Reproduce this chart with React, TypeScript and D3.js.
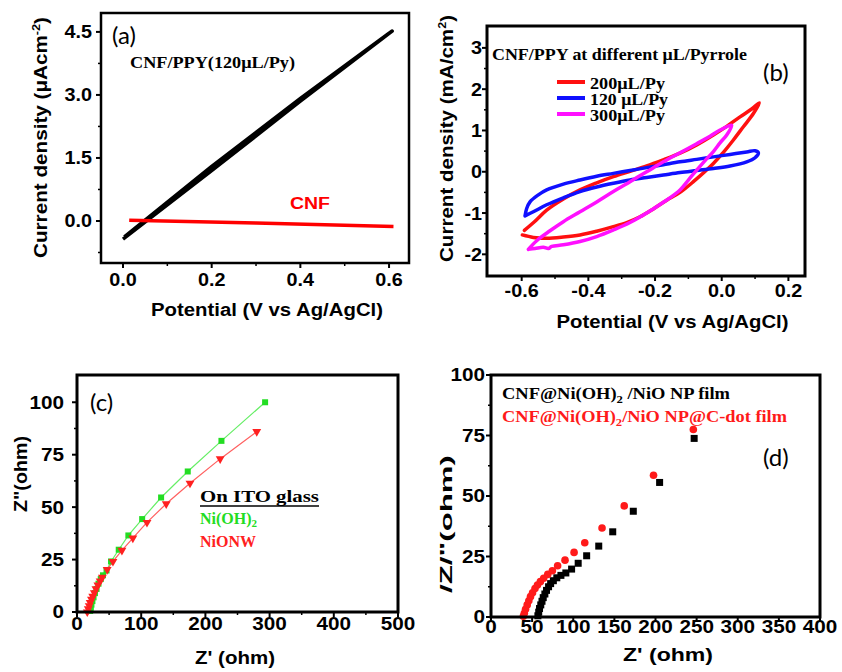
import React from 'react';
import * as d3 from 'd3';

const SANS = '"Liberation Sans", Arial, sans-serif';
const SERIF = '"Liberation Serif", "Times New Roman", serif';
const LETTER = 'Lato, "Open Sans", sans-serif';

// ---------- Panel (a) ----------
const aXTicks = [0, 0.2, 0.4, 0.6];
const aXLabels = ['0.0', '0.2', '0.4', '0.6'];
const aXMinor = [0.1, 0.3, 0.5];
const aYTicks = [0, 1.5, 3, 4.5];
const aYLabels = ['0.0', '1.5', '3.0', '4.5'];
const aYMinor = [-0.75, 0.75, 2.25, 3.75];
const aPpyX = [0.0, 0.2, 0.4, 0.607, 0.6, 0.4, 0.2, 0.003];
const aPpyY = [-0.43, 1.2, 2.85, 4.52, 4.47, 2.92, 1.3, -0.38];
const aCnfX = [0.014, 0.3, 0.61];
const aCnfY = [0.02, -0.05, -0.13];

// ---------- Panel (b) ----------
const bXTicks = [-0.6, -0.4, -0.2, 0, 0.2];
const bXLabels = ['-0.6', '-0.4', '-0.2', '0.0', '0.2'];
const bXMinor = [-0.5, -0.3, -0.1, 0.1];
const bYTicks = [-2, -1, 0, 1, 2, 3];
const bYLabels = ['-2', '-1', '0', '1', '2', '3'];
const bYMinor = [-1.5, -0.5, 0.5, 1.5, 2.5];
const bSeriesNames = ['200μL/Py', '120 μL/Py', '300μL/Py'];
const bSeriesColors = ['#ff1010', '#1010ff', '#ff10ff'];
const bRed: [number, number][] = [
  [-0.592, -1.42], [-0.56, -1.2], [-0.525, -0.93], [-0.475, -0.66], [-0.425, -0.44], [-0.375, -0.27],
  [-0.325, -0.12], [-0.275, 0.01], [-0.225, 0.14], [-0.175, 0.29], [-0.125, 0.45], [-0.075, 0.65],
  [-0.025, 0.89], [0.015, 1.1], [0.055, 1.33], [0.09, 1.52], [0.113, 1.67], [0.095, 1.41], [0.065, 1.09],
  [0.035, 0.77], [0.005, 0.47], [-0.025, 0.2], [-0.085, -0.24], [-0.125, -0.5], [-0.165, -0.69],
  [-0.205, -0.9], [-0.245, -1.09], [-0.285, -1.23], [-0.325, -1.33], [-0.375, -1.44], [-0.425, -1.53],
  [-0.475, -1.58], [-0.525, -1.61], [-0.565, -1.59], [-0.598, -1.53],
];
const bBlue: [number, number][] = [
  [-0.59, -1.07], [-0.585, -0.89], [-0.575, -0.73], [-0.55, -0.56], [-0.525, -0.44], [-0.475, -0.3],
  [-0.425, -0.2], [-0.375, -0.11], [-0.325, -0.04], [-0.275, 0.03], [-0.225, 0.1], [-0.175, 0.17],
  [-0.125, 0.24], [-0.075, 0.3], [-0.025, 0.36], [0.025, 0.42], [0.075, 0.48], [0.1, 0.51], [0.11, 0.46],
  [0.1, 0.34], [0.075, 0.24], [0.025, 0.14], [-0.025, 0.08], [-0.075, 0.03], [-0.125, -0.02],
  [-0.175, -0.08], [-0.225, -0.14], [-0.275, -0.2], [-0.325, -0.28], [-0.375, -0.37], [-0.425, -0.48],
  [-0.475, -0.63], [-0.525, -0.8], [-0.565, -0.97], [-0.59, -1.07],
];
const bMagenta: [number, number][] = [
  [-0.58, -1.88], [-0.555, -1.67], [-0.515, -1.43], [-0.475, -1.21], [-0.425, -0.97], [-0.375, -0.73],
  [-0.325, -0.48], [-0.275, -0.24], [-0.225, 0.0], [-0.175, 0.24], [-0.125, 0.46], [-0.075, 0.68],
  [-0.035, 0.86], [-0.005, 1.01], [0.03, 1.13], [0.015, 0.89], [-0.005, 0.7], [-0.025, 0.49],
  [-0.05, 0.27], [-0.075, 0.04], [-0.1, -0.2], [-0.125, -0.44], [-0.175, -0.74], [-0.225, -1.0],
  [-0.275, -1.23], [-0.325, -1.41], [-0.375, -1.57], [-0.425, -1.69], [-0.475, -1.77], [-0.51, -1.81],
  [-0.52, -1.86], [-0.535, -1.83], [-0.56, -1.86], [-0.58, -1.88],
];

// ---------- Panel (c) ----------
const cXTicks = [0, 100, 200, 300, 400, 500];
const cXLabels = ['0', '100', '200', '300', '400', '500'];
const cXMinor = [50, 150, 250, 350, 450];
const cYTicks = [0, 25, 50, 75, 100];
const cYLabels = ['0', '25', '50', '75', '100'];
const cYMinor = [12.5, 37.5, 62.5, 87.5];
const cNiOH: [number, number][] = [
  [20.5, 0.5], [21.5, 2], [22.5, 3.5], [24, 5.2], [25.8, 7], [28, 9], [30.5, 11], [33.5, 13.5],
  [37, 15.7], [40.5, 17.5], [46, 19.8], [53, 24.1], [65, 29.7], [80, 36.5], [101.5, 44.3],
  [131, 54.6], [172.5, 67], [225, 81.6], [293, 100],
];
const cNiONW: [number, number][] = [
  [16, 0], [17.5, 1.5], [19, 3], [20.5, 4.5], [22.5, 6], [24.5, 7.5], [27, 9.2], [29.5, 11],
  [32.5, 12.8], [36, 14.8], [39.5, 16.5], [47, 20.2], [56, 24.1], [70, 29.4], [87, 35.2],
  [109, 42.7], [139, 51.6], [176, 61.4], [223, 73], [280, 86],
];

// ---------- Panel (d) ----------
const dXTicks = [0, 50, 100, 150, 200, 250, 300, 350, 400];
const dXLabels = ['0', '50', '100', '150', '200', '250', '300', '350', '400'];
const dYTicks = [0, 25, 50, 75, 100];
const dYLabels = ['0', '25', '50', '75', '100'];
const dYMinor = [12.5, 37.5, 62.5, 87.5];
const dNP: [number, number][] = [
  [57, 0.5], [58, 2], [59, 3.5], [60.5, 5], [62, 6.5], [63.5, 8], [65.5, 9.5], [67.5, 11], [70, 12.5],
  [72.5, 13.8], [75.8, 15], [80, 16.2], [85, 17.2], [91, 18.2], [98, 19.8], [106, 22.2], [116.3, 25.3],
  [131, 29.3], [148, 35.2], [173, 43.7], [205, 55.6], [247, 73.8],
];
const dCdot: [number, number][] = [
  [39.3, 0.3], [40.5, 1.5], [42, 3.2], [44, 5], [46, 6.7], [48, 8.4], [50.5, 10], [53.5, 11.8],
  [56.5, 13.2], [60, 14.6], [64, 16], [69, 17.6], [74.6, 19.1], [81, 21.2], [90, 23.5], [101, 26.7],
  [114, 30.7], [135, 36.8], [162, 45.9], [197.6, 58.6], [246, 77.5],
];

type Scale = d3.ScaleLinear<number, number>;

function Frame({ x, y, sw }: { x: Scale; y: Scale; sw: number }) {
  const [x0, x1] = x.range();
  const [y1, y0] = y.range();
  return <rect x={x0} y={y0} width={x1 - x0} height={y1 - y0} fill="none" stroke="#000" strokeWidth={sw} />;
}

function XAxis({ x, y, ticks, labels, minor, labelY, fs = 18, sx = 1.1 }: any) {
  const yb = y.range()[0];
  return (
    <g>
      {ticks.map((t: number, i: number) => (
        <line key={'M' + i} x1={x(t)} x2={x(t)} y1={yb} y2={yb + 5} stroke="#000" strokeWidth={2} />
      ))}
      {(minor || []).map((t: number, i: number) => (
        <line key={'m' + i} x1={x(t)} x2={x(t)} y1={yb} y2={yb + 3} stroke="#000" strokeWidth={1.5} />
      ))}
      {ticks.map((t: number, i: number) => (
        <text key={'L' + i} transform={`translate(${x(t)},${labelY}) scale(${sx},1)`} textAnchor="middle"
          fontFamily={SANS} fontWeight="bold" fontSize={fs}>{labels[i]}</text>
      ))}
    </g>
  );
}

function YAxis({ x, y, ticks, labels, minor, labelX, fs = 18, sx = 1.1 }: any) {
  const xl = x.range()[0];
  return (
    <g>
      {ticks.map((t: number, i: number) => (
        <line key={'M' + i} x1={xl - 5} x2={xl} y1={y(t)} y2={y(t)} stroke="#000" strokeWidth={2} />
      ))}
      {(minor || []).map((t: number, i: number) => (
        <line key={'m' + i} x1={xl - 3} x2={xl} y1={y(t)} y2={y(t)} stroke="#000" strokeWidth={1.5} />
      ))}
      {ticks.map((t: number, i: number) => (
        <text key={'L' + i} transform={`translate(${labelX},${y(t) + fs * 0.36}) scale(${sx},1)`} textAnchor="end"
          fontFamily={SANS} fontWeight="bold" fontSize={fs}>{labels[i]}</text>
      ))}
    </g>
  );
}

export default function App() {
  // scales
  const ax = d3.scaleLinear().domain([-0.0496, 0.645]).range([101, 409]);
  const ay = d3.scaleLinear().domain([-1.0, 4.95]).range([263, 13]);
  const bx = d3.scaleLinear().domain([-0.704, 0.2498]).range([487, 805]);
  const by = d3.scaleLinear().domain([-2.525, 3.53]).range([276, 26]);
  const cx = d3.scaleLinear().domain([0, 500]).range([77, 398]);
  const cy = d3.scaleLinear().domain([0, 113]).range([612, 375]);
  const dx = d3.scaleLinear().domain([0, 400]).range([491, 820]);
  const dy = d3.scaleLinear().domain([0, 100]).range([617, 375]);

  const aLine = (xs: number[], ys: number[]) =>
    d3.line<number>().x((_, i) => ax(xs[i])).y((_, i) => ay(ys[i]))(xs) || '';
  const bLine = d3.line<[number, number]>().x(d => bx(d[0])).y(d => by(d[1])).curve(d3.curveCatmullRom.alpha(0.5));
  const cLine = d3.line<[number, number]>().x(d => cx(d[0])).y(d => cy(d[1]));

  const bSeries = [bRed, bBlue, bMagenta];
  const tri = d3.symbol().type(d3.symbolTriangle).size(34)() || '';

  return (
    <svg width={842} height={672} style={{ position: 'absolute', left: 0, top: 0, background: '#fff' }}>
      <rect x={0} y={0} width={842} height={672} fill="#fff" />

      {/* ===== Panel (a) ===== */}
      <g>
        <path d={aLine(aPpyX, aPpyY)} fill="none" stroke="#000" strokeWidth={3.5} strokeLinejoin="round" />
        <path d={aLine(aCnfX, aCnfY)} fill="none" stroke="#ff0000" strokeWidth={3.5} />
        <Frame x={ax} y={ay} sw={2.5} />
        <XAxis x={ax} y={ay} ticks={aXTicks} labels={aXLabels} minor={aXMinor} labelY={286} />
        <YAxis x={ax} y={ay} ticks={aYTicks} labels={aYLabels} minor={aYMinor} labelX={92} />
        <text x={267} y={316} textAnchor="middle" fontFamily={SANS} fontWeight="bold" fontSize={18}
          textLength={232} lengthAdjust="spacingAndGlyphs">Potential (V vs Ag/AgCl)</text>
        <text transform="translate(47,137.5) rotate(-90)" textAnchor="middle" fontFamily={SANS} fontWeight="bold"
          fontSize={18} textLength={241} lengthAdjust="spacingAndGlyphs">
          Current density (μAcm<tspan fontSize={11} dy={-7}>-2</tspan><tspan dy={7}>)</tspan>
        </text>
        <text x={112} y={44} fontFamily={LETTER} fontSize={24}>(a)</text>
        <text x={130} y={68} fontFamily={SERIF} fontWeight="bold" fontSize={17} textLength={165}
          lengthAdjust="spacingAndGlyphs">CNF/PPY(120μL/Py)</text>
        <text x={290} y={209} fontFamily={SANS} fontWeight="bold" fontSize={16} fill="#ff0000" textLength={40}
          lengthAdjust="spacingAndGlyphs">CNF</text>
      </g>

      {/* ===== Panel (b) ===== */}
      <g>
        {bSeries.map((s, i) => (
          <path key={i} d={bLine(s) || ''} fill="none" stroke={bSeriesColors[i]} strokeWidth={3.5}
            strokeLinejoin="round" strokeLinecap="round" />
        ))}
        <Frame x={bx} y={by} sw={3} />
        <XAxis x={bx} y={by} ticks={bXTicks} labels={bXLabels} minor={bXMinor} labelY={297} />
        <YAxis x={bx} y={by} ticks={bYTicks} labels={bYLabels} minor={bYMinor} labelX={482} />
        <text x={672.5} y={328} textAnchor="middle" fontFamily={SANS} fontWeight="bold" fontSize={18}
          textLength={232} lengthAdjust="spacingAndGlyphs">Potential (V vs Ag/AgCl)</text>
        <text transform="translate(453,138.5) rotate(-90)" textAnchor="middle" fontFamily={SANS} fontWeight="bold"
          fontSize={18} textLength={247} lengthAdjust="spacingAndGlyphs">
          Current density (mA/cm<tspan fontSize={11} dy={-7}>2</tspan><tspan dy={7}>)</tspan>
        </text>
        <text x={492} y={60} fontFamily={SERIF} fontWeight="bold" fontSize={17} textLength={255}
          lengthAdjust="spacingAndGlyphs">CNF/PPY at different μL/Pyrrole</text>
        <text x={763} y={81} fontFamily={LETTER} fontSize={24}>(b)</text>
        {bSeriesNames.map((n, i) => (
          <g key={i}>
            <line x1={557} x2={585} y1={82 + i * 16} y2={82 + i * 16} stroke={bSeriesColors[i]} strokeWidth={4} />
            <text x={590} y={89 + i * 16} fontFamily={SERIF} fontWeight="bold" fontSize={16}
              textLength={i === 1 ? 78 : 75} lengthAdjust="spacingAndGlyphs">{n}</text>
          </g>
        ))}
      </g>

      {/* ===== Panel (c) ===== */}
      <g>
        <path d={cLine(cNiOH) || ''} fill="none" stroke="#66ee66" strokeWidth={1.2} />
        <path d={cLine(cNiONW) || ''} fill="none" stroke="#ff6060" strokeWidth={1.2} />
        {cNiOH.map((p, i) => (
          <rect key={'g' + i} x={cx(p[0]) - 3} y={cy(p[1]) - 3} width={6} height={6} fill="#22dd22" />
        ))}
        {cNiONW.map((p, i) => (
          <path key={'r' + i} d={tri} transform={`translate(${cx(p[0])},${cy(p[1])}) rotate(180)`} fill="#ff2020" />
        ))}
        <Frame x={cx} y={cy} sw={3} />
        <XAxis x={cx} y={cy} ticks={cXTicks} labels={cXLabels} minor={cXMinor} labelY={630} sx={1.15} />
        <YAxis x={cx} y={cy} ticks={cYTicks} labels={cYLabels} minor={cYMinor} labelX={64} sx={1.15} />
        <text x={235} y={664} textAnchor="middle" fontFamily={SANS} fontWeight="bold" fontSize={18}
          textLength={80} lengthAdjust="spacingAndGlyphs">Z' (ohm)</text>
        <text transform="translate(27,474) rotate(-90)" textAnchor="middle" fontFamily={SANS} fontWeight="bold"
          fontSize={18} textLength={76} lengthAdjust="spacingAndGlyphs">Z"(ohm)</text>
        <text x={90} y={411} fontFamily={LETTER} fontSize={24}>(c)</text>
        <text x={200} y={502} fontFamily={SERIF} fontWeight="bold" fontSize={17} textLength={119}
          lengthAdjust="spacingAndGlyphs">On ITO  glass</text>
        <line x1={200} x2={319} y1={506} y2={506} stroke="#000" strokeWidth={1.5} />
        <text x={200} y={524} fontFamily={SERIF} fontWeight="bold" fontSize={16} fill="#22dd22">
          Ni(OH)<tspan fontSize={11} dy={3}>2</tspan>
        </text>
        <text x={200} y={547} fontFamily={SERIF} fontWeight="bold" fontSize={16} fill="#ff2020">NiONW</text>
      </g>

      {/* ===== Panel (d) ===== */}
      <g>
        {dNP.map((p, i) => (
          <rect key={'b' + i} x={dx(p[0]) - 3.5} y={dy(p[1]) - 3.5} width={7} height={7} fill="#000" />
        ))}
        {dCdot.map((p, i) => (
          <circle key={'c' + i} cx={dx(p[0])} cy={dy(p[1])} r={3.8} fill="#ff1a1a" />
        ))}
        <Frame x={dx} y={dy} sw={3} />
        <XAxis x={dx} y={dy} ticks={dXTicks} labels={dXLabels} labelY={633} sx={1.15} />
        <YAxis x={dx} y={dy} ticks={dYTicks} labels={dYLabels} minor={dYMinor} labelX={485} sx={1.15} />
        <text x={668} y={661} textAnchor="middle" fontFamily={SANS} fontWeight="bold" fontSize={18}
          textLength={90} lengthAdjust="spacingAndGlyphs">Z' (ohm)</text>
        <text transform="translate(452,524) rotate(-90)" textAnchor="middle" fontFamily={SANS} fontWeight="bold"
          fontSize={17} textLength={138} lengthAdjust="spacingAndGlyphs">/Z/"(ohm)</text>
        <text x={763} y={466} fontFamily={LETTER} fontSize={24}>(d)</text>
        <text x={502} y={399} fontFamily={SERIF} fontWeight="bold" fontSize={16} textLength={228}
          lengthAdjust="spacingAndGlyphs">CNF@Ni(OH)<tspan fontSize={11} dy={4}>2</tspan><tspan dy={-4}>  /NiO NP film</tspan></text>
        <text x={502} y={422} fontFamily={SERIF} fontWeight="bold" fontSize={16} fill="#ff1a1a" textLength={285}
          lengthAdjust="spacingAndGlyphs">CNF@Ni(OH)<tspan fontSize={11} dy={4}>2</tspan><tspan dy={-4}>/NiO NP@C-dot film</tspan></text>
      </g>
    </svg>
  );
}
